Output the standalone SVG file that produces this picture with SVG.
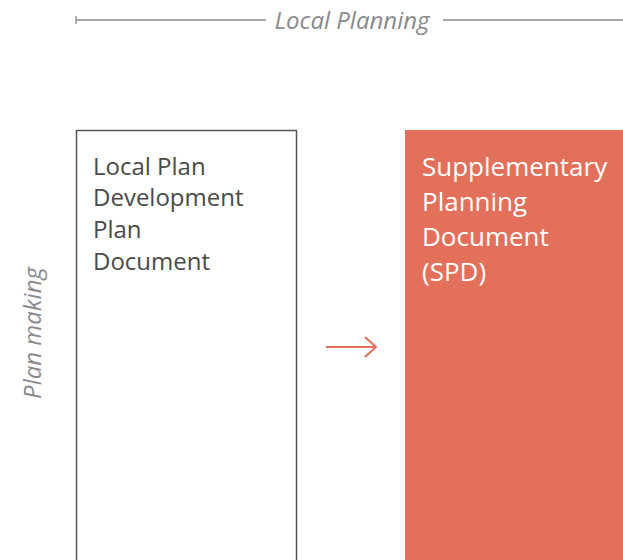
<svg xmlns="http://www.w3.org/2000/svg" width="623" height="560" viewBox="0 0 623 560">
<style>
.lbl{font-family:"Open Sans","Noto Sans",sans-serif;font-style:italic;fill:#8a8a8d;font-size:24px}
.t1{font-family:"Open Sans","Noto Sans",sans-serif;fill:#4a4a4a;font-size:24px}
.t2{font-family:"Open Sans","Noto Sans",sans-serif;fill:#ffffff;font-size:26px}
.rule{stroke:#8a8a8d;stroke-width:1.3;fill:none}
</style>
<rect width="623" height="560" fill="#fff"/>
<g id="header">
<line class="rule" x1="76" y1="20" x2="266" y2="20"/>
<line class="rule" x1="76" y1="16" x2="76" y2="24"/>
<line class="rule" x1="443" y1="20" x2="623" y2="20"/>
<text class="lbl" x="352" y="29" text-anchor="middle">Local Planning</text>
</g>
<g id="side-label">
<text class="lbl" transform="translate(41,333) rotate(-90)" text-anchor="middle">Plan making</text>
</g>
<g id="node-local-plan">
<rect x="76.5" y="130.5" width="220" height="440" fill="#fff" stroke="#555" stroke-width="1.5"/>
<text class="t1" x="93" y="175">Local Plan</text>
<text class="t1" x="93" y="206">Development</text>
<text class="t1" x="93" y="238">Plan</text>
<text class="t1" x="93" y="270">Document</text>
</g>
<g id="node-spd">
<rect x="405" y="130" width="218" height="430" fill="#e2705b"/>
<text class="t2" x="422" y="176">Supplementary</text>
<text class="t2" x="422" y="211">Planning</text>
<text class="t2" x="422" y="246">Document</text>
<text class="t2" x="422" y="281">(SPD)</text>
</g>
<g id="connectors">
<path d="M326 347 H375 M365 337 L376 347 L365 357" fill="none" stroke="#e2705b" stroke-width="2"/>
</g>
</svg>
